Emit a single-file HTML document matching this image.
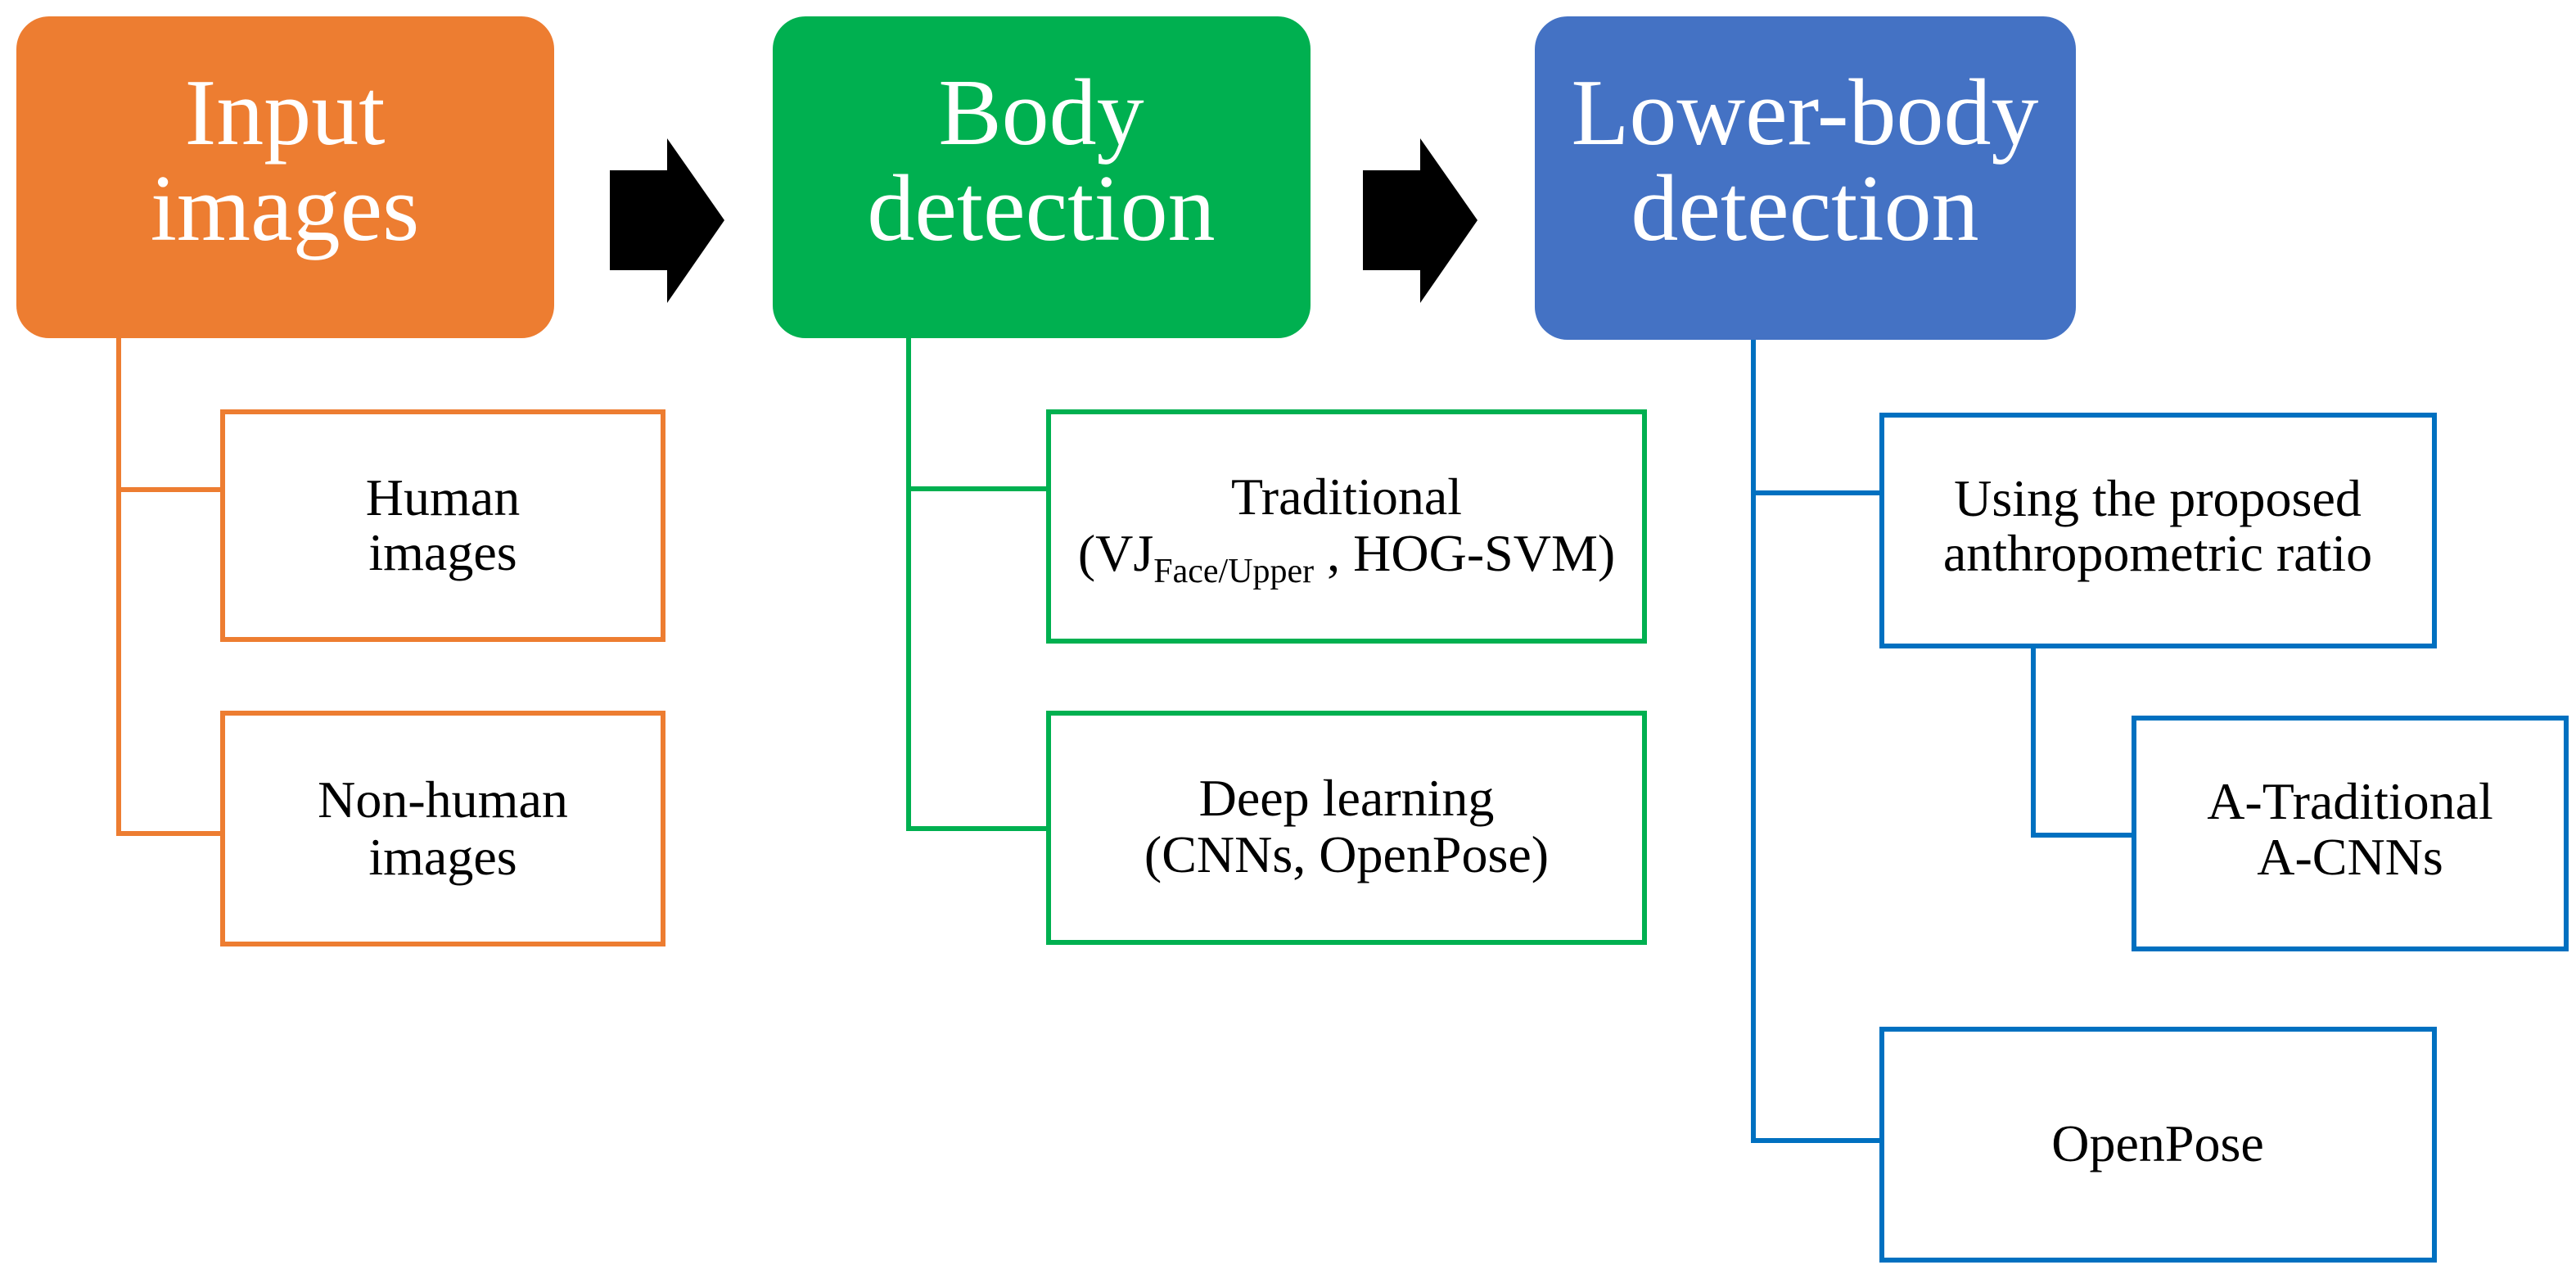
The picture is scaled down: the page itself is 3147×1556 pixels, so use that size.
<!DOCTYPE html>
<html><head><meta charset="utf-8"><style>html,body{margin:0;padding:0;background:#fff}svg{display:block}</style></head>
<body>
<svg width="3147" height="1556" viewBox="0 0 3147 1556" xmlns="http://www.w3.org/2000/svg" font-family="'Liberation Serif', serif">
<!-- header boxes -->
<rect x="20" y="20" width="657" height="393" rx="40" fill="#ED7D31"/>
<rect x="944" y="20" width="657" height="393" rx="40" fill="#00B050"/>
<rect x="1875" y="20" width="661" height="395" rx="40" fill="#4472C4"/>
<g fill="#fff" font-size="116" text-anchor="middle">
<text x="348" y="176">Input</text><text x="348" y="293">images</text>
<text x="1272" y="176">Body</text><text x="1272" y="293">detection</text>
<text x="2205" y="176">Lower-body</text><text x="2205" y="293">detection</text>
</g>
<!-- arrows -->
<polygon points="745,208 815,208 815,169 885,269 815,370 815,330 745,330" fill="#000"/>
<polygon points="1665,208 1735,208 1735,169 1805,269 1735,370 1735,330 1665,330" fill="#000"/>
<!-- orange -->
<g fill="none" stroke="#ED7D31" stroke-width="6">
<polyline points="145,413 145,1018 270,1018"/>
<line x1="145" y1="598" x2="270" y2="598"/>
<rect x="272" y="503" width="538" height="278"/>
<rect x="272" y="871" width="538" height="282"/>
</g>
<!-- green -->
<g fill="none" stroke="#00B050" stroke-width="6">
<polyline points="1110,413 1110,1012 1280,1012"/>
<line x1="1110" y1="597" x2="1280" y2="597"/>
<rect x="1281" y="503" width="728" height="280"/>
<rect x="1281" y="871" width="728" height="280"/>
</g>
<!-- blue -->
<g fill="none" stroke="#0070C0" stroke-width="6">
<polyline points="2142,415 2142,1393 2299,1393"/>
<line x1="2142" y1="602" x2="2299" y2="602"/>
<polyline points="2484,790 2484,1020 2607,1020"/>
<rect x="2299" y="507" width="675" height="282"/>
<rect x="2607" y="877" width="528" height="282"/>
<rect x="2299" y="1257" width="675" height="282"/>
</g>
<g fill="#000" font-size="64" text-anchor="middle">
<text x="541" y="629">Human</text><text x="541" y="696">images</text>
<text x="541" y="998">Non-human</text><text x="541" y="1068">images</text>
<text x="1645" y="628">Traditional</text>
<text x="1645" y="697">(VJ<tspan font-size="42" dy="14">Face/Upper</tspan><tspan dy="-14"> , HOG-SVM)</tspan></text>
<text x="1645" y="996">Deep learning</text><text x="1645" y="1065">(CNNs, OpenPose)</text>
<text x="2636" y="630">Using the proposed</text><text x="2636" y="697">anthropometric ratio</text>
<text x="2871" y="1000">A-Traditional</text><text x="2871" y="1068">A-CNNs</text>
<text x="2636" y="1418">OpenPose</text>
</g>
</svg>
</body></html>
